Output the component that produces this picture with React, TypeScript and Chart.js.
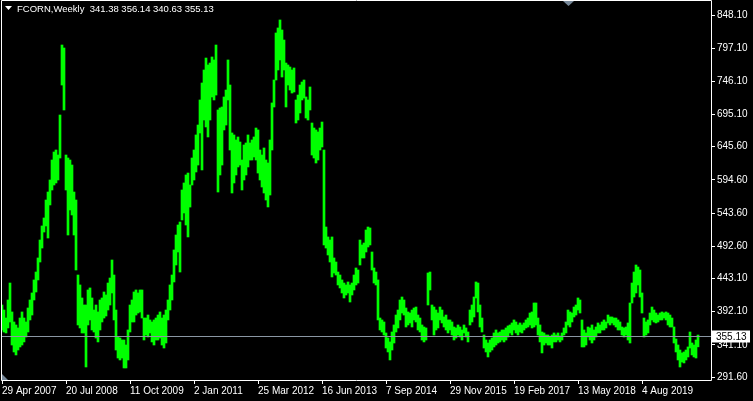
import React, { useEffect, useRef } from "react";
import { Chart, registerables } from "chart.js";

Chart.register(...registerables);

// Two-week bins starting 29 Apr 2007 (high / low of each bin)
const highs: number[] = [
  402.3, 394.6, 382.3, 410.0, 436.1, 391.6, 376.2, 371.6, 367.0, 382.3,
  391.6, 382.3, 376.2, 397.7, 410.0, 420.8, 440.8, 453.0, 474.6, 502.2,
  523.8, 536.1, 563.7, 576.0, 594.5, 625.2, 637.5, 640.6, 632.9, 694.4,
  802.0, 797.4, 632.9, 628.3, 625.2, 617.5, 576.0, 563.7, 448.4, 433.1,
  413.1, 402.3, 402.3, 425.4, 428.5, 413.1, 394.6, 402.3, 391.6, 410.0,
  413.1, 422.3, 417.7, 436.1, 443.8, 471.5, 448.4, 394.6, 353.1, 351.6,
  348.5, 348.5, 340.8, 363.9, 402.3, 410.0, 422.3, 425.4, 420.8, 425.4,
  425.4, 382.3, 382.3, 386.9, 379.3, 376.2, 379.3, 382.3, 386.9, 391.6,
  382.3, 386.9, 394.6, 410.0, 433.1, 448.4, 486.9, 509.9, 525.3,
  529.9, 579.1, 589.9, 602.2, 605.2, 586.8, 628.3, 640.6, 663.7, 679.0,
  717.5, 743.6, 763.6, 782.0, 771.3, 774.3, 783.6, 779.0, 802.0, 702.1,
  705.2, 706.7, 722.1, 732.8, 779.0, 740.5, 666.8, 663.7, 656.0, 660.6,
  652.9, 625.2, 648.3, 651.4, 663.7, 651.4, 656.0, 660.6, 674.4, 671.4,
  640.6, 632.9, 643.7, 625.2, 620.6, 656.0, 712.9, 748.2, 820.5, 828.2,
  840.5, 825.1, 809.7, 774.3, 771.3, 768.2, 763.6, 766.7, 717.5, 725.1,
  740.5, 745.1, 748.2, 722.1, 717.5, 737.5, 682.1, 674.4, 671.4, 668.3,
  674.4, 683.6, 640.6, 522.2, 506.9, 502.2, 506.9, 474.6, 468.4, 453.0,
  448.4, 440.8, 436.1, 433.1, 437.7, 433.1, 436.1, 448.4, 459.2,
  456.1, 502.2, 494.6, 497.6, 517.6, 522.2, 520.7, 483.8, 459.2, 453.0,
  440.8, 382.3, 379.3, 376.2, 359.3, 351.6, 345.5, 360.8, 371.6, 386.9,
  394.6, 410.0, 414.6, 410.0, 397.7, 391.6, 390.0, 394.6, 397.7, 399.2,
  386.9, 382.3, 371.6, 368.5, 367.0, 451.5, 453.0, 402.3, 399.2, 394.6,
  390.0, 399.2, 394.6, 383.9, 386.9, 379.3, 379.3, 376.2, 368.5, 367.0,
  371.6, 368.5, 363.9, 371.6, 367.0, 360.8, 394.6, 402.3, 414.6, 437.7,
  436.1, 402.3, 382.3, 356.2, 348.5, 343.9, 348.5, 351.6, 359.3, 363.9,
  359.3, 360.8, 363.9, 363.9, 367.0, 370.1, 371.6, 374.7, 379.3, 376.2,
  371.6, 374.7, 371.6, 374.7, 379.3, 382.3, 390.0, 391.6, 405.4,
  405.4, 382.3, 371.6, 360.8, 359.3, 356.2, 356.2, 353.1, 356.2, 359.3,
  356.2, 359.3, 354.7, 359.3, 367.0, 376.2, 394.6, 391.6, 390.0, 399.2,
  402.3, 413.1, 410.0, 379.3, 363.9, 359.3, 368.5, 367.0, 371.6, 363.9,
  368.5, 374.7, 371.6, 376.2, 379.3, 376.2, 386.9, 383.9, 383.9, 382.3,
  382.3, 379.3, 376.2, 368.5, 367.0, 368.5, 374.7, 405.4, 436.1, 453.0,
  463.8, 460.7, 456.1, 420.8, 382.3, 376.2, 379.3, 390.0, 399.2, 394.6,
  390.0, 386.9, 390.0, 391.6, 390.0, 391.6, 390.0, 386.9, 382.3, 368.5,
  350.0, 340.8, 333.1, 328.6, 330.1, 333.1, 337.8, 360.8, 343.9, 340.8,
  348.5, 356.1,
];

const lows: number[] = [
  363.9, 360.8, 359.3, 367.0, 376.2, 340.8, 330.1, 325.5, 333.1, 337.8,
  340.8, 345.5, 353.1, 360.8, 379.3, 386.9, 410.0, 422.3, 440.8, 468.4,
  489.9, 514.5, 523.8, 505.3, 556.1, 579.1, 586.8, 589.9, 594.5, 628.3,
  740.5, 702.1, 579.1, 509.9, 548.4, 540.7, 509.9, 456.1, 371.6, 367.0,
  359.3, 359.3, 307.0, 371.6, 379.3, 363.9, 360.8, 351.6, 345.5, 363.9,
  376.2, 382.3, 385.4, 394.6, 402.3, 420.8, 379.3, 333.1, 320.8, 317.8,
  320.8, 305.5, 305.5, 317.8, 360.8, 376.2, 376.2, 386.9, 390.0, 391.6,
  382.3, 348.5, 356.2, 353.1, 359.3, 345.5, 340.8, 348.5, 348.5, 351.6,
  340.8, 336.2, 343.9, 379.3, 394.6, 410.0, 437.7, 463.8, 483.8,
  453.0, 533.0, 543.8, 525.3, 506.9, 552.9, 586.8, 594.5, 606.8, 617.5,
  666.8, 609.9, 686.7, 676.0, 660.6, 686.7, 722.1, 717.5, 725.1, 576.0,
  602.2, 617.5, 671.4, 679.0, 717.5, 640.6, 574.5, 589.9, 602.2, 614.5,
  617.5, 579.1, 594.5, 602.2, 614.5, 625.2, 625.2, 629.9, 625.2, 605.2,
  594.5, 583.7, 574.5, 563.7, 553.0, 571.4, 640.6, 706.7, 748.2, 763.6,
  779.0, 752.8, 763.6, 706.7, 740.5, 732.8, 728.2, 729.8, 682.1, 686.7,
  697.5, 717.5, 720.5, 689.8, 686.7, 702.1, 632.9, 628.3, 620.6, 625.2,
  640.6, 645.2, 494.6, 489.9, 479.2, 468.4, 445.4, 451.5, 448.4, 433.1,
  428.5, 420.8, 413.1, 417.7, 420.8, 406.9, 417.7, 425.4, 433.1,
  436.1, 463.8, 474.6, 474.6, 483.8, 491.5, 494.6, 456.1, 436.1, 433.1,
  379.3, 363.9, 360.8, 356.2, 336.2, 330.1, 317.8, 333.1, 343.9, 360.8,
  367.0, 379.3, 390.0, 386.9, 368.5, 371.6, 374.7, 368.5, 379.3, 376.2,
  363.9, 360.8, 348.5, 345.5, 348.5, 402.3, 425.4, 379.3, 356.2, 363.9,
  367.0, 379.3, 374.7, 368.5, 363.9, 359.3, 363.9, 356.2, 348.5, 351.6,
  356.2, 353.1, 348.5, 359.3, 353.1, 345.5, 371.6, 376.2, 383.9, 413.1,
  391.6, 368.5, 360.8, 336.2, 330.1, 322.4, 330.1, 333.1, 337.8, 340.8,
  343.9, 345.5, 348.5, 345.5, 348.5, 353.1, 359.3, 356.2, 363.9, 359.3,
  356.2, 360.8, 359.3, 363.9, 367.0, 368.5, 371.6, 367.0, 368.5,
  371.6, 356.2, 345.5, 328.6, 340.8, 343.9, 340.8, 340.8, 336.2, 345.5,
  345.5, 348.5, 345.5, 348.5, 356.2, 359.3, 371.6, 368.5, 376.2, 383.9,
  386.9, 394.6, 390.0, 337.8, 337.8, 340.8, 353.1, 348.5, 343.9, 348.5,
  353.1, 359.3, 359.3, 363.9, 363.9, 367.0, 374.7, 371.6, 374.7, 371.6,
  368.5, 363.9, 363.9, 356.2, 353.1, 356.2, 348.5, 343.9, 405.4, 414.6,
  420.8, 433.1, 414.6, 390.0, 353.1, 356.2, 359.3, 371.6, 379.3, 376.2,
  374.7, 376.2, 379.3, 379.3, 382.3, 379.3, 371.6, 368.5, 368.5, 343.9,
  330.1, 317.8, 307.0, 314.7, 313.2, 317.8, 322.4, 336.2, 325.5, 322.4,
  320.8, 338.0,
];

const binCount = 355;
const xTickIndex: number[] = [0, 32, 64, 96, 128, 160, 192, 224, 256, 288, 320];
const xTickLabels: string[] = [
  "29 Apr 2007", "20 Jul 2008", "11 Oct 2009", "2 Jan 2011", "25 Mar 2012",
  "16 Jun 2013", "7 Sep 2014", "29 Nov 2015", "19 Feb 2017", "13 May 2018", "4 Aug 2019",
];
const yTickValues: number[] = [
  848.1, 797.1, 746.1, 695.1, 645.6, 594.6, 543.6, 492.6, 443.1, 392.1, 341.1, 291.6,
];
const yMin = 287.0;
const yMax = 871.2;
const lastPrice = 355.13;
const titleText = "FCORN,Weekly  341.38 356.14 340.63 355.13";

const FONT = "10px 'Liberation Sans', Arial, sans-serif";
const TITLE_FONT = "9.5px 'Liberation Sans', Arial, sans-serif";

const chromePlugin = {
  id: "mtChrome",
  beforeDraw(chart: any) {
    const ctx = chart.ctx;
    ctx.save();
    ctx.fillStyle = "#000000";
    ctx.fillRect(0, 0, chart.width, chart.height);
    ctx.restore();
  },
  afterDraw(chart: any) {
    const ctx = chart.ctx;
    const a = chart.chartArea;
    const ys = chart.scales.y;
    ctx.save();
    // bid line
    const py = Math.round(ys.getPixelForValue(lastPrice)) + 0.5;
    ctx.strokeStyle = "#8a96a3";
    ctx.lineWidth = 1;
    ctx.beginPath();
    ctx.moveTo(a.left, py);
    ctx.lineTo(a.right, py);
    ctx.stroke();
    // frame
    ctx.strokeStyle = "#ffffff";
    ctx.beginPath();
    ctx.moveTo(a.left + 0.5, a.top + 0.5);
    ctx.lineTo(a.right + 0.5, a.top + 0.5);
    ctx.lineTo(a.right + 0.5, a.bottom + 0.5);
    ctx.lineTo(a.left + 0.5, a.bottom + 0.5);
    ctx.closePath();
    ctx.stroke();
    // price label
    ctx.fillStyle = "#ffffff";
    ctx.fillRect(a.right + 1, py - 6, 38, 12);
    ctx.fillStyle = "#000000";
    ctx.font = FONT;
    ctx.textBaseline = "middle";
    ctx.textAlign = "left";
    ctx.fillText(lastPrice.toFixed(2), a.right + 5, py + 0.5);
    // title triangle + text
    ctx.fillStyle = "#ffffff";
    ctx.beginPath();
    ctx.moveTo(5, 6);
    ctx.lineTo(12, 6);
    ctx.lineTo(8.5, 10);
    ctx.closePath();
    ctx.fill();
    ctx.font = TITLE_FONT;
    ctx.textBaseline = "alphabetic";
    ctx.fillText(titleText, 17, 12);
    // chart shift marker
    ctx.fillStyle = "#778899";
    ctx.beginPath();
    ctx.moveTo(563, 1);
    ctx.lineTo(574, 1);
    ctx.lineTo(568.5, 6);
    ctx.closePath();
    ctx.fill();
    // bottom-left marker
    ctx.beginPath();
    ctx.moveTo(2, 374);
    ctx.lineTo(8, 380);
    ctx.lineTo(2, 380);
    ctx.closePath();
    ctx.fill();
    ctx.restore();
  },
};

export default function App() {
  const ref = useRef<HTMLCanvasElement | null>(null);

  useEffect(() => {
    const canvas = ref.current;
    if (!canvas) return;
    const labels = Array.from({ length: binCount }, (_, i) => String(i));
    const data = highs.map((h, i) => [lows[i], h]);
    const tickFont = { family: "'Liberation Sans', Arial, sans-serif", size: 10 };
    const chart = new Chart(canvas, {
      type: "bar",
      data: {
        labels,
        datasets: [
          {
            data: data as any,
            backgroundColor: "#00ff00",
            borderWidth: 0,
            barPercentage: 1,
            categoryPercentage: 1,
          },
        ],
      },
      options: {
        animation: false,
        responsive: false,
        devicePixelRatio: 1,
        layout: { padding: { left: 1, top: 0, right: 0, bottom: 0 } },
        plugins: {
          legend: { display: false },
          tooltip: { enabled: false },
          title: { display: false },
        },
        scales: {
          x: {
            type: "category",
            offset: true,
            border: { display: false },
            grid: {
              display: true,
              drawOnChartArea: false,
              drawTicks: true,
              tickLength: 4,
              color: "#ffffff",
              offset: false,
            },
            ticks: {
              autoSkip: false,
              maxRotation: 0,
              minRotation: 0,
              align: "start",
              padding: 1,
              color: "#ffffff",
              font: tickFont,
              callback: (_v: any, i: number) => xTickLabels[i],
            },
            afterBuildTicks: (s: any) => {
              s.ticks = xTickIndex.map((v) => ({ value: v }));
            },
            afterFit: (s: any) => {
              s.height = 21;
              s.paddingLeft = 0;
              s.paddingRight = 0;
            },
          } as any,
          y: {
            position: "right",
            min: yMin,
            max: yMax,
            border: { display: false },
            grid: {
              display: true,
              drawOnChartArea: false,
              drawTicks: true,
              tickLength: 4,
              color: "#ffffff",
            },
            ticks: {
              padding: 2,
              color: "#ffffff",
              font: tickFont,
              callback: (v: any) => Number(v).toFixed(2),
            },
            afterBuildTicks: (s: any) => {
              s.ticks = yTickValues.map((v) => ({ value: v }));
            },
            afterFit: (s: any) => {
              s.width = 42;
              s.paddingTop = 0;
              s.paddingBottom = 0;
            },
          } as any,
        },
      },
      plugins: [chromePlugin],
    });
    return () => chart.destroy();
  }, []);

  return (
    <div
      style={{
        position: "fixed",
        left: 0,
        top: 0,
        width: 753,
        height: 401,
        background: "#000",
      }}
    >
      <canvas ref={ref} width={753} height={401} style={{ display: "block", width: 753, height: 401 }} />
    </div>
  );
}
